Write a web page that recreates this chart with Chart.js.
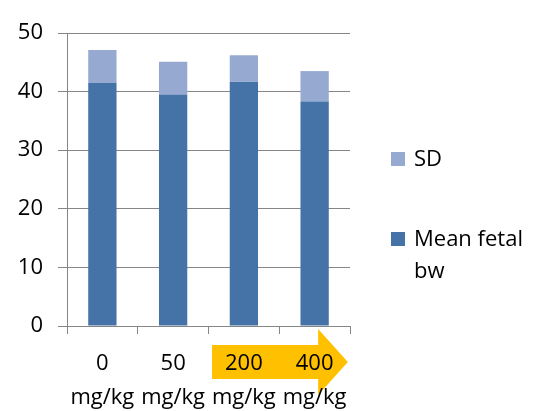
<!DOCTYPE html>
<html>
<head>
<meta charset="utf-8">
<script src="https://cdn.jsdelivr.net/npm/chart.js@4"></script>
<style>
  html, body { margin: 0; padding: 0; background: #ffffff; }
  #wrap { width: 533px; height: 411px; position: relative; }
</style>
</head>
<body>
<div id="wrap"><canvas id="c" width="533" height="411"></canvas></div>
<script>
// Dose groups and fetal body weight (mean, with SD stacked on top)
const doses = ["0", "50", "200", "400"];
const unit = "mg/kg";
const meanBw = [41.5, 39.5, 41.7, 38.3];
const sdBw = [5.6, 5.6, 4.5, 5.2];
const yTicks = [0, 10, 20, 30, 40, 50];

const FONT = "'Open Sans', 'Liberation Sans', sans-serif";
const GRID = "#868686";
const DARK = "#4572A7";
const LIGHT = "#95A9D1";
const ORANGE = "#FFC000";

// Orange arrow behind the two highest-dose labels
const doseArrow = {
  id: "doseArrow",
  beforeDraw(chart) {
    const x = chart.scales.x;
    const ctx = chart.ctx;
    const step = x.getPixelForValue(1) - x.getPixelForValue(0);
    const x0 = x.getPixelForValue(2) - step * 0.45;
    const headBase = x.getPixelForValue(3) + step * 0.05;
    const tip = x.getPixelForValue(3) + step * 0.47;
    const cy = x.bottom - 49;
    ctx.save();
    ctx.fillStyle = ORANGE;
    ctx.beginPath();
    ctx.moveTo(x0, cy - 17);
    ctx.lineTo(headBase, cy - 17);
    ctx.lineTo(headBase, cy - 33);
    ctx.lineTo(tip, cy);
    ctx.lineTo(headBase, cy + 33);
    ctx.lineTo(headBase, cy + 17);
    ctx.lineTo(x0, cy + 17);
    ctx.closePath();
    ctx.fill();
    ctx.restore();
  }
};

// Legend at the right, top entry = top of the stack
const sideLegend = {
  id: "sideLegend",
  afterDraw(chart) {
    const ctx = chart.ctx;
    const ds = chart.data.datasets;
    const entries = [
      { color: ds[1].backgroundColor, lines: ["SD"], y: 166 },
      { color: ds[0].backgroundColor, lines: ["Mean fetal", "bw"], y: 246 }
    ];
    ctx.save();
    ctx.font = "22px " + FONT;
    ctx.textAlign = "left";
    ctx.textBaseline = "alphabetic";
    entries.forEach(e => {
      ctx.fillStyle = e.color;
      ctx.fillRect(391, e.y - 14, 14, 14);
      ctx.fillStyle = "#000000";
      e.lines.forEach((t, i) => ctx.fillText(t, 414, e.y + i * 32));
    });
    ctx.restore();
  }
};

new Chart(document.getElementById("c"), {
  type: "bar",
  data: {
    labels: doses.map(d => [d, unit]),
    datasets: [
      { label: "Mean fetal bw", data: meanBw, backgroundColor: DARK },
      { label: "SD", data: sdBw, backgroundColor: LIGHT }
    ]
  },
  options: {
    responsive: false,
    animation: false,
    devicePixelRatio: 1,
    layout: { padding: { top: 33, right: 183, left: 0, bottom: 0 } },
    datasets: { bar: { categoryPercentage: 1, barPercentage: 0.4 } },
    plugins: { legend: { display: false }, tooltip: { enabled: false } },
    scales: {
      x: {
        stacked: true,
        grid: { drawOnChartArea: false, drawTicks: true, tickLength: 8, color: GRID },
        border: { color: GRID },
        ticks: {
          color: "#000000",
          font: { family: FONT, size: 22, lineHeight: 1.55 },
          maxRotation: 0, autoSkip: false, padding: 13
        },
        afterFit(s) { s.height = 85; }
      },
      y: {
        stacked: true,
        min: 0, max: 50,
        afterBuildTicks(s) { s.ticks = yTicks.map(v => ({ value: v })); },
        grid: { color: GRID, tickLength: 9 },
        border: { color: GRID },
        ticks: {
          color: "#000000",
          font: { family: FONT, size: 22 },
          padding: 15
        },
        afterFit(s) { s.width = 67; }
      }
    }
  },
  plugins: [doseArrow, sideLegend]
});
</script>
</body>
</html>
